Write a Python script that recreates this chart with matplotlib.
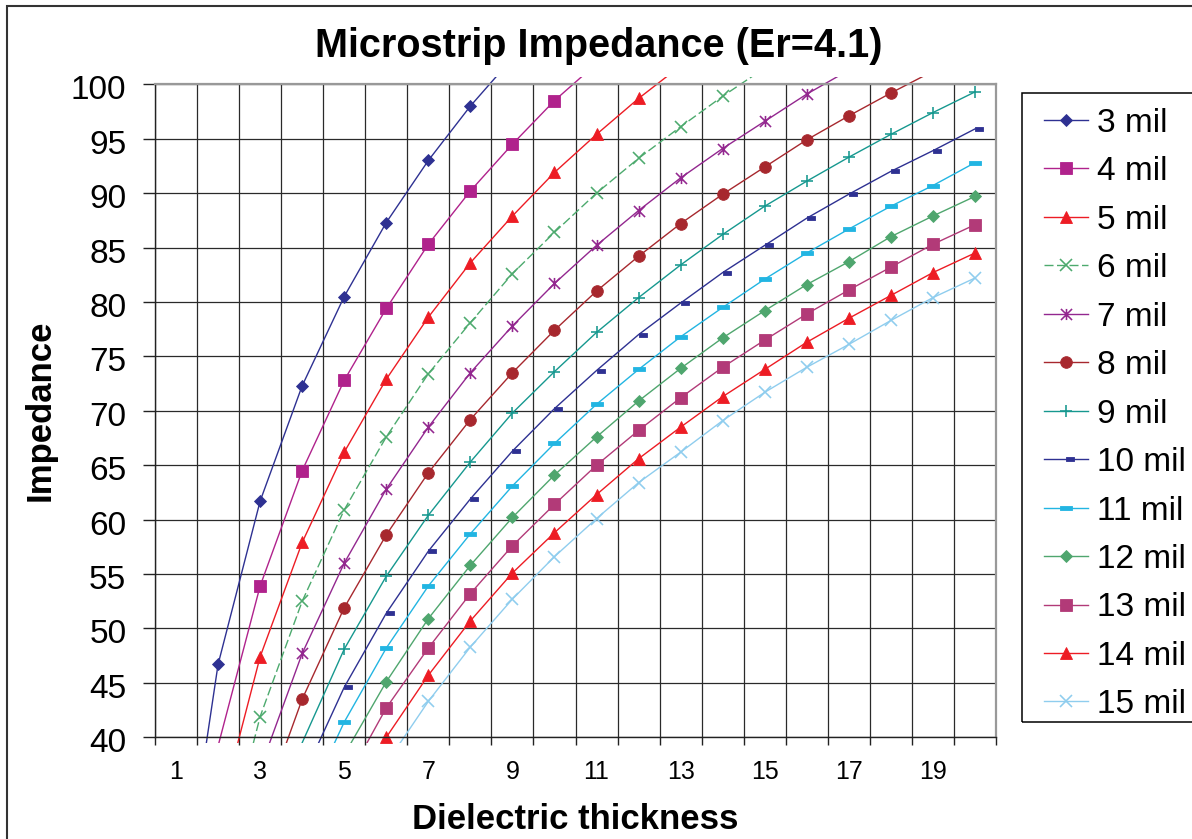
import numpy as np
import matplotlib.pyplot as plt
from matplotlib.path import Path
from matplotlib.patches import Rectangle
from matplotlib.lines import Line2D
from matplotlib.transforms import ScaledTranslation

plt.rcParams['font.family'] = ['Liberation Sans', 'DejaVu Sans']

W, H = 1192, 839

# dielectric thickness categories (1..20) and the labels shown on the axis
thickness = list(range(1, 21))
tick_labels = ['1', '3', '5', '7', '9', '11', '13', '15', '17', '19']

# impedance per trace width (None = not drawn)
mil_3 = [20.8, 46.7, 61.7, 72.3, 80.5, 87.3, 93.0, 98.0, 102.4, None,
         None, None, None, None, None, None, None, None, None, None]
mil_4 = [None, 39.2, 53.9, 64.5, 72.8, 79.4, 85.3, 90.2, 94.5, 98.5,
         101.9, None, None, None, None, None, None, None, None, None]
mil_5 = [None, 32.5, 47.4, 57.9, 66.2, 72.9, 78.6, 83.6, 87.9, 91.9,
         95.4, 98.7, 101.7, None, None, None, None, None, None, None]
mil_6 = [None, 26.8, 41.9, 52.5, 60.9, 67.6, 73.4, 78.1, 82.6, 86.4,
         90.0, 93.2, 96.1, 98.9, 101.5, None, None, None, None, None]
mil_7 = [None, None, 37.1, 47.7, 56.0, 62.8, 68.5, 73.5, 77.8, 81.7,
         85.2, 88.4, 91.4, 94.1, 96.6, 99.1, 101.3, None, None, None]
mil_8 = [None, None, 32.8, 43.5, 51.9, 58.6, 64.3, 69.2, 73.5, 77.4,
         81.0, 84.2, 87.2, 89.9, 92.4, 94.9, 97.1, 99.2, 101.2, None]
mil_9 = [None, None, None, 39.5, 48.1, 54.8, 60.4, 65.3, 69.8, 73.6,
         77.2, 80.4, 83.4, 86.2, 88.8, 91.1, 93.3, 95.4, 97.4, 99.3]
mil_10 = [None, None, None, 36.2, 44.6, 51.4, 57.1, 61.9, 66.3, 70.2,
          73.7, 77.0, 79.9, 82.7, 85.2, 87.7, 89.9, 92.0, 93.9, 95.9]
mil_11 = [None, None, None, 33.1, 41.4, 48.2, 53.9, 58.7, 63.1, 67.0,
          70.6, 73.8, 76.8, 79.5, 82.1, 84.5, 86.7, 88.8, 90.7, 92.8]
mil_12 = [None, None, None, None, 38.4, 45.1, 50.9, 55.8, 60.2, 64.1,
          67.6, 70.9, 73.9, 76.7, 79.2, 81.6, 83.7, 86.0, 87.9, 89.7]
mil_13 = [None, None, None, None, 35.7, 42.7, 48.2, 53.2, 57.6, 61.4,
          65.0, 68.2, 71.2, 74.0, 76.5, 78.9, 81.1, 83.2, 85.3, 87.1]
mil_14 = [None, None, None, None, 33.2, 40.0, 45.7, 50.7, 55.1, 58.8,
          62.3, 65.6, 68.5, 71.3, 73.8, 76.3, 78.5, 80.6, 82.7, 84.5]
mil_15 = [None, None, None, None, None, 37.6, 43.3, 48.3, 52.7, 56.6,
          60.1, 63.4, 66.2, 69.1, 71.7, 74.0, 76.1, 78.3, 80.4, 82.2]

series = [('3 mil', mil_3), ('4 mil', mil_4), ('5 mil', mil_5), ('6 mil', mil_6),
          ('7 mil', mil_7), ('8 mil', mil_8), ('9 mil', mil_9), ('10 mil', mil_10),
          ('11 mil', mil_11), ('12 mil', mil_12), ('13 mil', mil_13),
          ('14 mil', mil_14), ('15 mil', mil_15)]

# custom Excel-like markers
star = Path([(-1, -1), (1, 1), (-1, 1), (1, -1), (0, -1), (0, 1)],
            [Path.MOVETO, Path.LINETO, Path.MOVETO, Path.LINETO, Path.MOVETO, Path.LINETO])
dash_small = Path([(0, -0.27), (1, -0.27), (1, 0.27), (0, 0.27), (0, -0.27)],
                  [Path.MOVETO, Path.LINETO, Path.LINETO, Path.LINETO, Path.CLOSEPOLY])
dash_wide = Path([(-1, -0.34), (1, -0.34), (1, 0.34), (-1, 0.34), (-1, -0.34)],
                 [Path.MOVETO, Path.LINETO, Path.LINETO, Path.LINETO, Path.CLOSEPOLY])

# color, linestyle, marker, markersize, filled
styles = {
    '3 mil': ('#2E3192', '-', 'D', 6.2, True),
    '4 mil': ('#B0228C', '-', 's', 8.2, True),
    '5 mil': ('#ED1C24', '-', '^', 9.2, True),
    '6 mil': ('#4DAA6E', (0, (6.5, 2.5)), 'x', 8.0, False),
    '7 mil': ('#93278F', '-', star, 8.0, False),
    '8 mil': ('#A7282E', '-', 'o', 8.4, True),
    '9 mil': ('#16988F', '-', '+', 9.0, False),
    '10 mil': ('#2E3192', '-', dash_small, 11.2, True),
    '11 mil': ('#22B5E2', '-', dash_wide, 9.0, True),
    '12 mil': ('#4FA66E', '-', 'D', 6.2, True),
    '13 mil': ('#B23A78', '-', 's', 8.2, True),
    '14 mil': ('#ED1C24', '-', '^', 9.2, True),
    '15 mil': ('#8FCDEE', '-', 'x', 8.0, False),
}


def style_kw(name):
    c, ls, m, ms, filled = styles[name]
    return dict(color=c, lw=1.0, ls=ls, marker=m, ms=ms,
                mfc=c if filled else 'none', mec=c,
                mew=0.6 if filled else 1.15)


fig = plt.figure(figsize=(W / 100, H / 100), dpi=100)
fig.patch.set_facecolor('white')

left, right, top, bottom = 155, 996, 84.3, 737.3
ax = fig.add_axes([left / W, 1 - bottom / H, (right - left) / W, (bottom - top) / H])

# Excel lets the lines run a few pixels past the plot frame
clip_rect = Rectangle((0, -6.0 / (bottom - top)), 1, 1 + 13.6 / (bottom - top),
                      transform=ax.transAxes)

for name, vals in series:
    y = np.array(vals, dtype=float)
    shown = [i for i, v in enumerate(y) if np.isfinite(v) and 39.9 <= v <= 100.3]
    line, = ax.plot(thickness, y, markevery=shown, **style_kw(name))
    line.set_clip_path(clip_rect)

ax.set_xlim(0.5, 20.5)
ax.set_ylim(40, 100)

# gridlines at category boundaries and every 5 ohms
ax.set_xticks(np.arange(0.5, 21, 1))
ax.set_xticklabels([])
ax.set_xticks(thickness[::2], minor=True)
ax.set_xticklabels(tick_labels, minor=True, fontsize=18)
ax.set_yticks(np.arange(40, 101, 5))
ax.tick_params(axis='x', which='major', direction='out', length=5.8, width=1, color='#222222')
ax.tick_params(axis='x', which='minor', length=0, pad=16)
ax.tick_params(axis='y', direction='out', length=8.6, width=1, color='#222222',
               labelsize=24, pad=12)
shift = ScaledTranslation(0, -3 / 100, fig.dpi_scale_trans)
for lab in ax.get_yticklabels():
    lab.set_transform(lab.get_transform() + shift)
ax.grid(True, which='major', color='#2a2a2a', lw=0.9)
ax.set_axisbelow(True)
for s in ['left', 'bottom']:
    ax.spines[s].set_color('#222222')
    ax.spines[s].set_linewidth(1.0)
for s in ['top', 'right']:
    ax.spines[s].set_color('#999999')
    ax.spines[s].set_linewidth(1.6)

fig.text(599 / W, 1 - 56.7 / H, 'Microstrip Impedance (Er=4.1)', ha='center',
         va='baseline', fontsize=28.5, fontweight='bold')
fig.text(575.5 / W, 1 - 829.3 / H, 'Dielectric thickness', ha='center',
         va='baseline', fontsize=25, fontweight='bold')
fig.text(40 / W, 1 - 410.7 / H, 'Impedance', ha='center', va='center',
         rotation=90, fontsize=25, fontweight='bold')

# outer chart border (right and bottom edges fall outside the picture)
fig.add_artist(Rectangle((7 / W, -0.1), 1.2, 1.1 - 6 / H, transform=fig.transFigure,
                         fill=False, ec='#333333', lw=1.5))

# legend box, drawn by hand to match Excel spacing
leg_top, leg_bottom, leg_left = 93.3, 722, 1021.5
fig.add_artist(Rectangle((leg_left / W, 1 - leg_bottom / H), 0.2, (leg_bottom - leg_top) / H,
                         transform=fig.transFigure, fill=False, ec='black', lw=1.1))
for i, (name, vals) in enumerate(series):
    yc = 120 + 48.45 * i
    kw = style_kw(name)
    fig.add_artist(Line2D([1044 / W, 1088 / W], [1 - yc / H] * 2, transform=fig.transFigure,
                          color=kw['color'], lw=1.0, ls=kw['ls']))
    mk = {k: v for k, v in kw.items() if k not in ('ls', 'lw')}
    fig.add_artist(Line2D([1066 / W], [1 - yc / H], transform=fig.transFigure,
                          ls='none', **mk))
    fig.text(1097 / W, 1 - (yc + 12) / H, name, fontsize=24, va='baseline', ha='left')

fig.savefig('out.png', dpi=100)
